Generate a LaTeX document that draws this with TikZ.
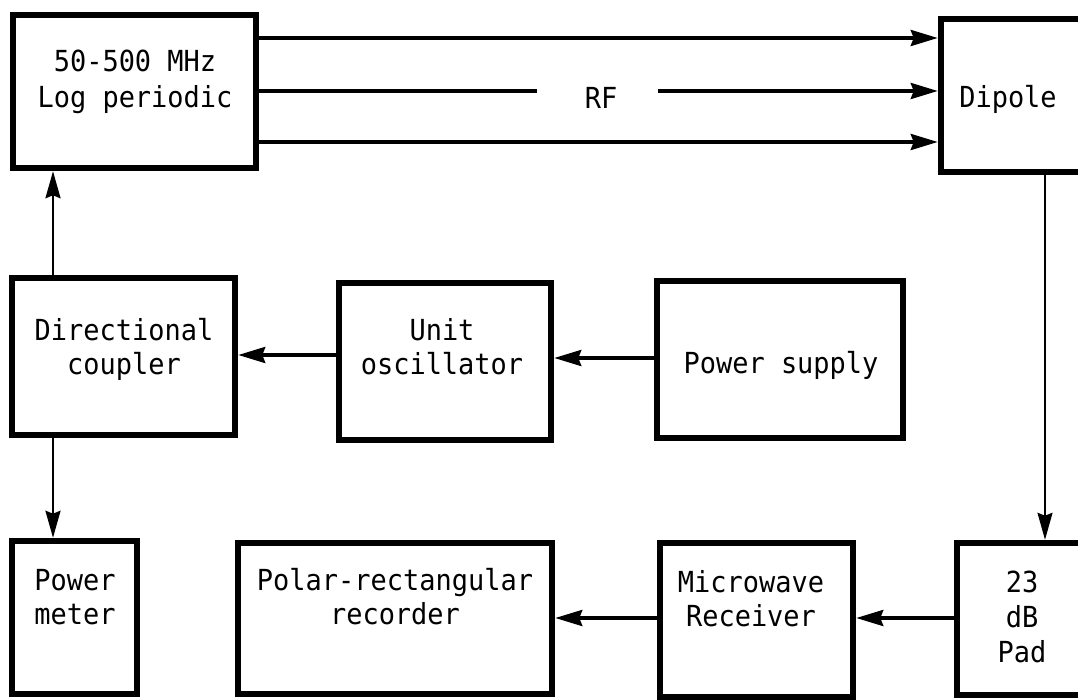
\documentclass[tikz,border=0pt]{standalone}
\usepackage{fontspec}
\setmonofont{DejaVu Sans Mono}[FakeStretch=0.93]
\usetikzlibrary{arrows.meta}
\begin{document}
\begin{tikzpicture}[x=1pt,y=-1pt,
  box/.style={draw, line width=6.5pt, inner sep=0pt},
  txt/.style={anchor=base, inner sep=0pt, font=\ttfamily\fontsize{29}{34}\selectfont},
  conn/.style={line width=3.5pt, -{Stealth[length=27pt,width=16pt,inset=3pt]}},
  vconn/.style={line width=2.5pt, -{Stealth[length=27pt,width=15pt,inset=3pt]}}]
\useasboundingbox (0,0) rectangle (1078,700);
\clip (0,0) rectangle (1078,700);
\fill[white] (0,0) rectangle (1078,700);
% boxes
\node[box, minimum width=243pt, minimum height=153pt] (lp) at (134.5,91.5) {};
\node[box, minimum width=169pt, minimum height=153pt] (dip) at (1025.5,95.5) {};
\node[box, minimum width=223pt, minimum height=157pt] (dc) at (123.5,356.5) {};
\node[box, minimum width=212pt, minimum height=157pt] (uo) at (445,361.5) {};
\node[box, minimum width=246pt, minimum height=157pt] (ps) at (780,359.5) {};
\node[box, minimum width=125pt, minimum height=153pt] (pm) at (74.5,617.5) {};
\node[box, minimum width=314pt, minimum height=151pt] (pr) at (395,618.5) {};
\node[box, minimum width=193pt, minimum height=154pt] (mr) at (756.5,620) {};
\node[box, minimum width=153pt, minimum height=152pt] (pad) at (1033.5,619) {};
% texts
\node[txt] (lp1) at (135,72) {50-500 MHz};
\node[txt] (lp2) at (135,108) {Log periodic};
\node[txt] (dipt) at (1008,108) {Dipole};
\node[txt] (dc1) at (124,340) {Directional};
\node[txt] (dc2) at (124,374) {coupler};
\node[txt] (uo1) at (442,340) {Unit};
\node[txt] (uo2) at (442,374) {oscillator};
\node[txt] (pst) at (781,373) {Power supply};
\node[txt] (pm1) at (75,590) {Power};
\node[txt] (pm2) at (75,624) {meter};
\node[txt] (pr1) at (395,590) {Polar-rectangular};
\node[txt] (pr2) at (395,624) {recorder};
\node[txt] (mr1) at (751,592) {Microwave};
\node[txt] (mr2) at (751,626) {Receiver};
\node[txt] (pad1) at (1022,592) {23};
\node[txt] (pad2) at (1022,627) {dB};
\node[txt] (pad3) at (1022,662) {Pad};
% RF lines
\coordinate (ya) at (0,38);
\coordinate (yc) at (0,142);
\draw[conn] (lp.east |- ya) -- (dip.west |- ya);
\draw[conn] (lp.east |- yc) -- (dip.west |- yc);
\node[inner sep=0pt, minimum width=121pt, minimum height=10pt] (rf) at (597.5,91) {};
\node[txt] (rft) at (601,109) {RF};
\draw[line width=3.5pt] (lp.east |- rf) -- (rf.west);
\draw[conn] (rf.east) -- (dip.west |- rf);
% verticals
\coordinate (xl) at (53,0);
\coordinate (xr) at (1045,0);
\draw[vconn] (dc.north -| xl) -- (lp.south -| xl);
\draw[vconn] (dc.south -| xl) -- (pm.north -| xl);
\draw[vconn, line width=2pt] (dip.south -| xr) -- (pad.north -| xr);
% horizontals
\coordinate (y1) at (0,355);
\coordinate (y2) at (0,358);
\coordinate (y3) at (0,618);
\draw[conn] (uo.west |- y1) -- (dc.east |- y1);
\draw[conn] (ps.west |- y2) -- (uo.east |- y2);
\draw[conn] (pad.west |- y3) -- (mr.east |- y3);
\draw[conn] (mr.west |- y3) -- (pr.east |- y3);
\end{tikzpicture}
\end{document}
